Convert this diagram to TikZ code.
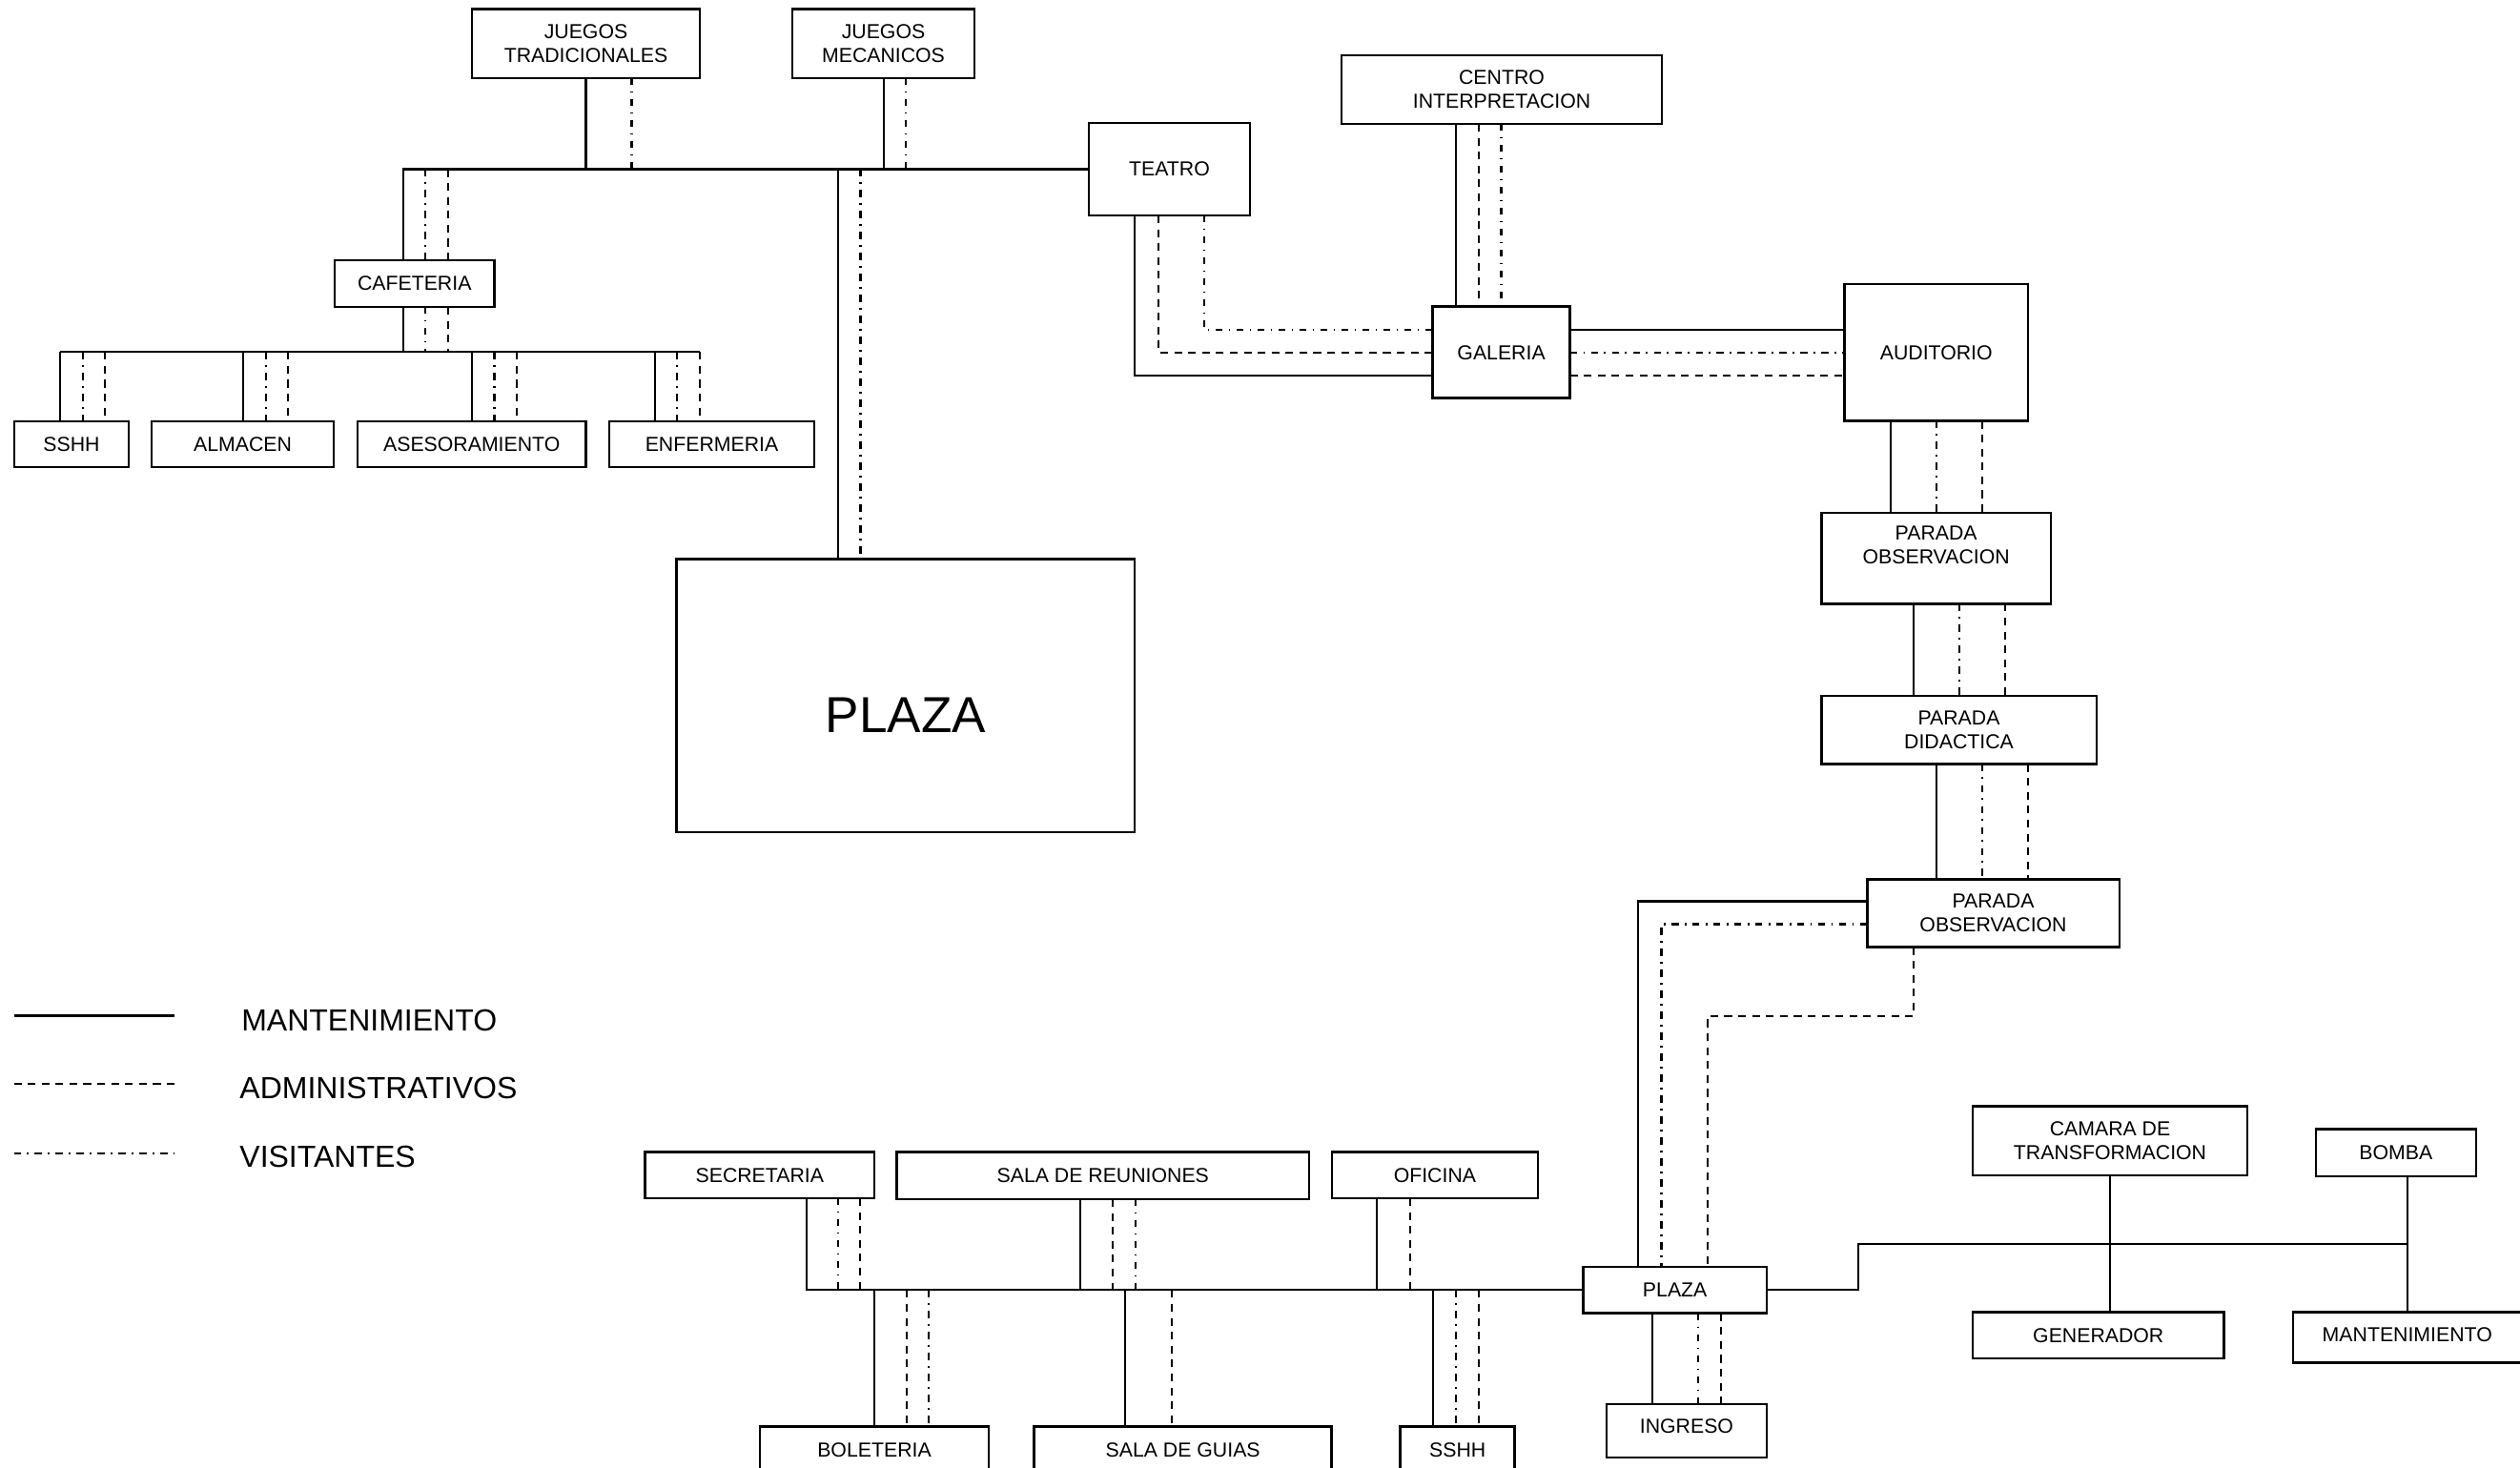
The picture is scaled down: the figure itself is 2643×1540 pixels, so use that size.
\documentclass[tikz,border=0pt]{standalone}
\usepackage{fontspec}
\setmainfont{Liberation Sans}

% box: [text shift] name, x1, y1, x2, y2, text  (corners in drawing units)
\newcommand\caja[7][0pt]{%
  \node[cajon, minimum width={(#5-#3)*0.01cm}, minimum height={(#6-#4)*0.01cm},
        label={[rotulo, yshift=#1]center:#7}] (#2) at ({(#3+#5)/2},{(#4+#6)/2}) {};}

\begin{document}
\begin{tikzpicture}[x=0.01cm, y=-0.01cm,
  mant/.style={line width=0.6pt},
  admin/.style={line width=0.6pt, dash pattern=on 2.3pt off 1.85pt},
  visit/.style={line width=0.6pt, dash pattern=on 2.1pt off 1.85pt on 0.45pt off 1.85pt},
  cajon/.style={draw, line width=0.7pt, rectangle, inner sep=0pt, outer sep=0pt},
  rotulo/.style={font=\fontsize{6.05}{7.2}\selectfont, align=center, inner sep=0pt},
  leyenda/.style={font=\fontsize{9.1}{11}\selectfont, anchor=base west, inner sep=0pt}]

\useasboundingbox (0,0) rectangle (2643,1540);
\fill[white] (0,0) rectangle (2643,1540);
\clip (0,0) rectangle (2643,1540);

% ---------- boxes ----------
\caja{jt}{495}{9.5}{734}{82}{JUEGOS\\TRADICIONALES}
\caja{jm}{831}{9.5}{1022}{82}{JUEGOS\\MECANICOS}
\caja{teatro}{1142}{129}{1311}{226}{TEATRO}
\caja{centro}{1407}{58}{1743}{130}{CENTRO\\INTERPRETACION}
\caja{galeria}{1502.5}{321.7}{1646.6}{417.7}{GALERIA}
\caja{aud}{1934.5}{298}{2127}{441.5}{AUDITORIO}
\caja{caf}{351}{273}{518.5}{322}{CAFETERIA}
\caja{sshhA}{15}{442}{135}{490}{SSHH}
\caja{alm}{159}{442}{350}{490}{ALMACEN}
\caja{ases}{375}{442}{614.5}{490}{ASESORAMIENTO}
\caja{enf}{639}{442}{854}{490}{ENFERMERIA}
\node[cajon, minimum width=4.804cm, minimum height=2.864cm,
      label={[font=\fontsize{15.1}{18}\selectfont, inner sep=0pt, yshift=-0.2cm]center:PLAZA}]
      (plaza) at (949.8,729.8) {};
\caja[0.137cm]{poA}{1910.3}{538}{2151}{633.4}{PARADA\\OBSERVACION}
\caja{pd}{1910.3}{730}{2198.7}{801.6}{PARADA\\DIDACTICA}
\caja{poB}{1958.3}{922.3}{2222.7}{993.5}{PARADA\\OBSERVACION}
\caja{sec}{676.6}{1208.7}{917}{1257}{SECRETARIA}
\caja{salar}{940.6}{1208.7}{1373}{1258}{SALA DE REUNIONES}
\caja{ofi}{1397}{1208.7}{1612.8}{1257}{OFICINA}
\caja{plazaB}{1660.5}{1329}{1852.8}{1377.7}{PLAZA}
\caja[0.05cm]{ingreso}{1685}{1473}{1852.8}{1529}{INGRESO}
\caja{bol}{797}{1496.7}{1037}{1545}{BOLETERIA}
\caja{guias}{1084.7}{1496.7}{1396.6}{1545}{SALA DE GUIAS}
\caja{sshhB}{1468.7}{1496.7}{1588.6}{1545}{SSHH}
\caja{camara}{2069}{1160.7}{2357}{1233}{CAMARA DE\\TRANSFORMACION}
\caja{bomba}{2429}{1184.7}{2596.7}{1234}{BOMBA}
\caja{gen}{2069}{1376.7}{2332.5}{1425}{GENERADOR}
\caja[0.03cm]{mantb}{2405}{1376.7}{2644.5}{1429.3}{MANTENIMIENTO}

% ---------- upper left group ----------
\coordinate (busA) at (teatro.west -| 422.6,0);
\draw[mant] (teatro.west) -- (busA) -- (caf.north -| busA);
\draw[mant]  (jt.south -| 614.5,0) -- (busA -| 614.5,0);
\draw[visit] (jt.south -| 662.5,0) -- (busA -| 662.5,0);
\draw[mant]  (jm.south -| 926.8,0) -- (busA -| 926.8,0);
\draw[visit] (jm.south -| 950,0) -- (busA -| 950,0);
\draw[visit] (busA -| 446,0) -- (caf.north -| 446,0);
\draw[admin] (busA -| 470,0) -- (caf.north -| 470,0);
\draw[mant]  (busA -| 878.8,0) -- (plaza.north -| 878.8,0);
\draw[visit] (busA -| 902.5,0) -- (plaza.north -| 902.5,0);

\coordinate (busB) at (422.6,369.3);
\draw[mant]  (caf.south -| busB) -- (busB);
\draw[visit] (caf.south -| 446,0) -- (busB -| 446,0);
\draw[admin] (caf.south -| 470,0) -- (busB -| 470,0);
\draw[mant]  (busB -| 63,0) -- (busB -| 734,0);
\foreach \n/\a/\b/\c in {sshhA/63/86.7/110.3, alm/255/278.6/302,
                          ases/495/518.5/542, enf/687/710.4/734}{
  \draw[mant]  (busB -| \a,0) -- (\n.north -| \a,0);
  \draw[visit] (busB -| \b,0) -- (\n.north -| \b,0);
  \draw[admin] (busB -| \c,0) -- (\n.north -| \c,0);
}

% ---------- teatro, centro, galeria, auditorio ----------
\draw[mant]  (teatro.south -| 1190.3,0) |- (galeria.west |- 0,393.7);
\draw[admin] (teatro.south -| 1214.7,0) |- (galeria.west |- 0,369.7);
\draw[visit] (teatro.south -| 1262.7,0) |- (galeria.west |- 0,345.7);
\foreach \s/\x in {mant/1526.7, admin/1551, visit/1574.5}
  \draw[\s] (centro.south -| \x,0) -- (galeria.north -| \x,0);
\foreach \s/\y in {mant/345.7, visit/369.7, admin/393.7}
  \draw[\s] (galeria.east |- 0,\y) -- (aud.west |- 0,\y);

% ---------- chain of stops ----------
\foreach \s/\x in {mant/1982.7, visit/2030.7, admin/2078.7}
  \draw[\s] (aud.south -| \x,0) -- (poA.north -| \x,0);
\foreach \s/\x in {mant/2006.7, visit/2054.7, admin/2102.7}
  \draw[\s] (poA.south -| \x,0) -- (pd.north -| \x,0);
\foreach \s/\x in {mant/2030.7, visit/2078.7, admin/2126.7}
  \draw[\s] (pd.south -| \x,0) -- (poB.north -| \x,0);

\draw[mant]  (poB.west |- 0,945.5) -| (plazaB.north -| 1718.4,0);
\draw[visit] (poB.west |- 0,969.5) -| (plazaB.north -| 1742.5,0);
\draw[admin] (poB.south -| 2006.7,0) -- (2006.7,1066) -| (plazaB.north -| 1790.8,0);

\foreach \s/\x in {mant/1733, visit/1781, admin/1805}
  \draw[\s] (plazaB.south -| \x,0) -- (ingreso.north -| \x,0);

% ---------- lower administrative group ----------
\coordinate (busC) at (plazaB.west -| 845.6,0);
\draw[mant] (sec.south -| busC) -- (busC) -- (plazaB.west);
\foreach \n/\s/\x in {sec/visit/878.7, sec/admin/902.3,
                      salar/mant/1133.2, salar/admin/1167, salar/visit/1190.6,
                      ofi/mant/1444.4, ofi/admin/1478.9}
  \draw[\s] (\n.south -| \x,0) -- (busC -| \x,0);
\foreach \n/\s/\x in {bol/mant/917, bol/admin/950.8, bol/visit/974.4,
                      guias/mant/1180.4, guias/admin/1228.9,
                      sshhB/mant/1503, sshhB/visit/1526.7, sshhB/admin/1551}
  \draw[\s] (busC -| \x,0) -- (\n.north -| \x,0);

% ---------- services ----------
\coordinate (busD) at (2524.8,1304.7);
\draw[mant] (plazaB.east) -| (1948.6,1304.7) -- (busD);
\draw[mant] (camara.south -| 2212.8,0) -- (gen.north -| 2212.8,0);
\draw[mant] (bomba.south -| busD) -- (mantb.north -| busD);

% ---------- legend ----------
\coordinate (la1) at (14.5,1065.7);  \coordinate (la2) at (182.5,1065.7);
\coordinate (lb1) at (14.5,1137);    \coordinate (lb2) at (182.5,1137);
\coordinate (lc1) at (14.5,1210);    \coordinate (lc2) at (182.5,1210);
\draw[mant, line width=0.75pt] (la1) -- (la2);
\draw[admin] (lb1) -- (lb2);
\draw[visit] (lc1) -- (lc2);
\node[leyenda] (tla) at (252.6,1081) {MANTENIMIENTO};
\node[leyenda] (tlb) at (250.7,1152.7) {ADMINISTRATIVOS};
\node[leyenda] (tlc) at (250.7,1224) {VISITANTES};
\end{tikzpicture}
\end{document}
